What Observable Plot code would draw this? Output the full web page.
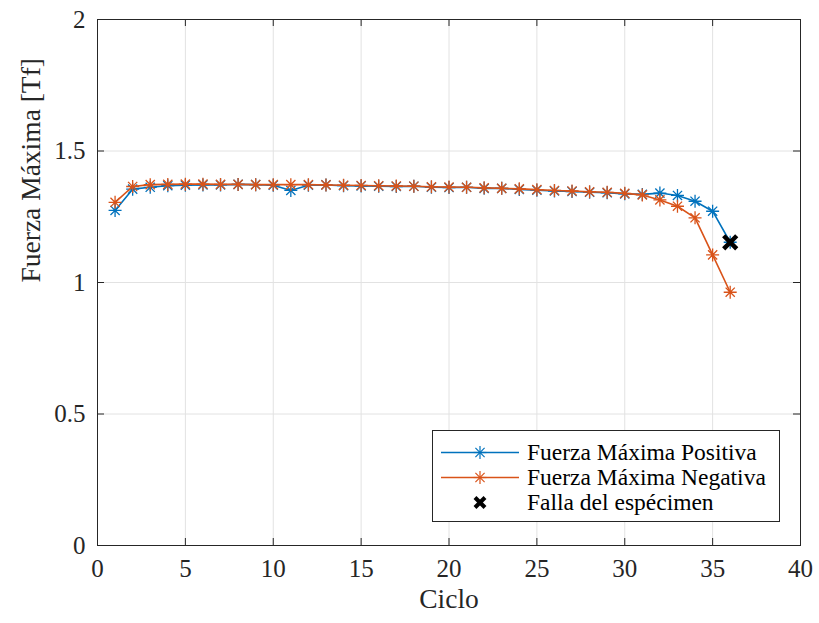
<!DOCTYPE html>
<html>
<head>
<meta charset="utf-8">
<script src="https://cdn.jsdelivr.net/npm/d3@7"></script>
<script src="https://cdn.jsdelivr.net/npm/@observablehq/plot@0.6"></script>
<style>
  body { margin: 0; background: #fff; }
  #wrap { position: relative; width: 819px; height: 623px; font-family: "Liberation Serif", "Times New Roman", serif; color: #262626; }
  #wrap svg.plot { position: absolute; left: 0; top: 0; }
  #wrap svg text { font-family: "Liberation Serif", "Times New Roman", serif; }
  #legend { position: absolute; left: 432px; top: 430px; width: 348px; height: 92px; box-sizing: border-box; border: 1px solid #262626; background: #fff; }
  .row { position: absolute; left: 0; height: 25px; width: 100%; }
  .row svg { position: absolute; left: 7px; top: 0; }
  .row span { position: absolute; left: 94px; top: 0; line-height: 25px; font-size: 23.5px; white-space: nowrap; color: #000; }
</style>
</head>
<body>
<div id="wrap"></div>
<script>
// ---- data ----
const cycles = [1,2,3,4,5,6,7,8,9,10,11,12,13,14,15,16,17,18,19,20,21,22,23,24,25,26,27,28,29,30,31,32,33,34,35,36];
const positiva = [1.274,1.355,1.362,1.368,1.370,1.371,1.371,1.373,1.372,1.370,1.350,1.370,1.371,1.368,1.367,1.366,1.365,1.366,1.362,1.361,1.362,1.358,1.358,1.354,1.351,1.348,1.346,1.343,1.341,1.337,1.335,1.340,1.331,1.309,1.271,1.153];
const negativa = [1.305,1.365,1.372,1.373,1.374,1.374,1.373,1.373,1.372,1.372,1.372,1.372,1.371,1.370,1.369,1.368,1.367,1.366,1.364,1.363,1.362,1.360,1.358,1.356,1.353,1.350,1.348,1.345,1.343,1.339,1.333,1.314,1.290,1.246,1.105,0.963];
const fallaX = [36];
const fallaY = [1.153];
const xTicks = [0,5,10,15,20,25,30,35,40];
const xTickLabels = ["0","5","10","15","20","25","30","35","40"];
const yTicks = [0,0.5,1,1.5,2];
const yTickLabels = ["0","0.5","1","1.5","2"];
const seriesNames = ["Fuerza Máxima Positiva","Fuerza Máxima Negativa","Falla del espécimen"];
const xLabel = "Ciclo";
const yLabel = "Fuerza Máxima [Tf]";

// ---- layout / style ----
const W = 819, H = 623, mL = 97, mR = 19, mT = 19, mB = 78;
const innerW = W - mL - mR, innerH = H - mT - mB;
const BLUE = "#0072BD", ORANGE = "#D95319", AX = "#262626", GRID = "#e2e2e2";
const TL = 7;
const FONT = "Liberation Serif, Times New Roman, serif";

const star8 = {
  draw(ctx, size) {
    const r = Math.sqrt(size / Math.PI), d = r * Math.SQRT1_2;
    ctx.moveTo(-r, 0); ctx.lineTo(r, 0);
    ctx.moveTo(0, -r); ctx.lineTo(0, r);
    ctx.moveTo(-d, -d); ctx.lineTo(d, d);
    ctx.moveTo(-d, d); ctx.lineTo(d, -d);
  }
};

const pos = cycles.map((c, i) => ({c, v: positiva[i]}));
const neg = cycles.map((c, i) => ({c, v: negativa[i]}));
const falla = fallaX.map((c, i) => ({c, v: fallaY[i]}));

const chart = Plot.plot({
  width: W, height: H,
  marginLeft: mL, marginRight: mR, marginTop: mT, marginBottom: mB,
  style: {fontFamily: FONT, background: "white", color: AX, overflow: "visible"},
  x: {domain: [0, 40]},
  y: {domain: [0, 2]},
  marks: [
    // grid
    Plot.ruleX(xTicks, {x: d => d, stroke: GRID}),
    Plot.ruleY(yTicks, {y: d => d, stroke: GRID}),
    // inward ticks on all four sides
    Plot.ruleX(xTicks, {x: d => d, insetTop: innerH - TL, stroke: AX}),
    Plot.ruleX(xTicks, {x: d => d, insetBottom: innerH - TL, stroke: AX}),
    Plot.ruleY(yTicks, {y: d => d, insetRight: innerW - TL, stroke: AX}),
    Plot.ruleY(yTicks, {y: d => d, insetLeft: innerW - TL, stroke: AX}),
    Plot.frame({stroke: AX, strokeWidth: 1}),
    // tick labels
    Plot.axisX({ticks: xTicks, tickSize: 0, tickPadding: 14, fontSize: 25, fontFamily: FONT, fill: AX, label: null,
      tickFormat: d => xTickLabels[xTicks.indexOf(d)]}),
    Plot.axisY({ticks: yTicks, tickSize: 0, tickPadding: 12, fontSize: 25, fontFamily: FONT, fill: AX, label: null,
      tickFormat: d => yTickLabels[yTicks.indexOf(d)]}),
    // axis titles
    Plot.text([xLabel], {text: d => d, frameAnchor: "bottom", dy: 62, fontSize: 27.5, fontFamily: FONT, fill: AX}),
    Plot.text([yLabel], {text: d => d, frameAnchor: "left", dx: -66, rotate: -90, fontSize: 27.5, fontFamily: FONT, fill: AX}),
    // series
    Plot.line(pos, {x: "c", y: "v", stroke: BLUE, strokeWidth: 1.6}),
    Plot.dot(pos, {x: "c", y: "v", symbol: star8, r: 6.5, fill: "none", stroke: BLUE, strokeWidth: 1.3}),
    Plot.line(neg, {x: "c", y: "v", stroke: ORANGE, strokeWidth: 1.6}),
    Plot.dot(neg, {x: "c", y: "v", symbol: star8, r: 6.5, fill: "none", stroke: ORANGE, strokeWidth: 1.3}),
    Plot.dot(falla, {x: "c", y: "v", symbol: "times", r: 6, fill: "none", stroke: "black", strokeWidth: 4.5})
  ]
});

const wrap = document.getElementById("wrap");
wrap.appendChild(chart);

// legend
const legend = document.createElement("div");
legend.id = "legend";
const rows = [
  {name: seriesNames[0], color: BLUE, kind: "star"},
  {name: seriesNames[1], color: ORANGE, kind: "star"},
  {name: seriesNames[2], color: "black", kind: "x"}
];
rows.forEach((r, i) => {
  const row = document.createElement("div");
  row.className = "row";
  row.style.top = (9 + i * 25) + "px";
  let sym;
  if (r.kind === "star") {
    const s = 6.5, d = s * Math.SQRT1_2;
    sym = `<line x1="1" y1="12.5" x2="79" y2="12.5" stroke="${r.color}" stroke-width="1.5"/>
      <g transform="translate(40,12.5)" stroke="${r.color}" stroke-width="1.2">
      <line x1="${-s}" y1="0" x2="${s}" y2="0"/><line x1="0" y1="${-s}" x2="0" y2="${s}"/>
      <line x1="${-d}" y1="${-d}" x2="${d}" y2="${d}"/><line x1="${-d}" y1="${d}" x2="${d}" y2="${-d}"/></g>`;
  } else {
    const s = 5;
    sym = `<g transform="translate(40,12.5)" stroke="black" stroke-width="4">
      <line x1="${-s}" y1="${-s}" x2="${s}" y2="${s}"/><line x1="${-s}" y1="${s}" x2="${s}" y2="${-s}"/></g>`;
  }
  row.innerHTML = `<svg width="80" height="25">${sym}</svg><span>${r.name}</span>`;
  legend.appendChild(row);
});
wrap.appendChild(legend);
</script>
</body>
</html>
